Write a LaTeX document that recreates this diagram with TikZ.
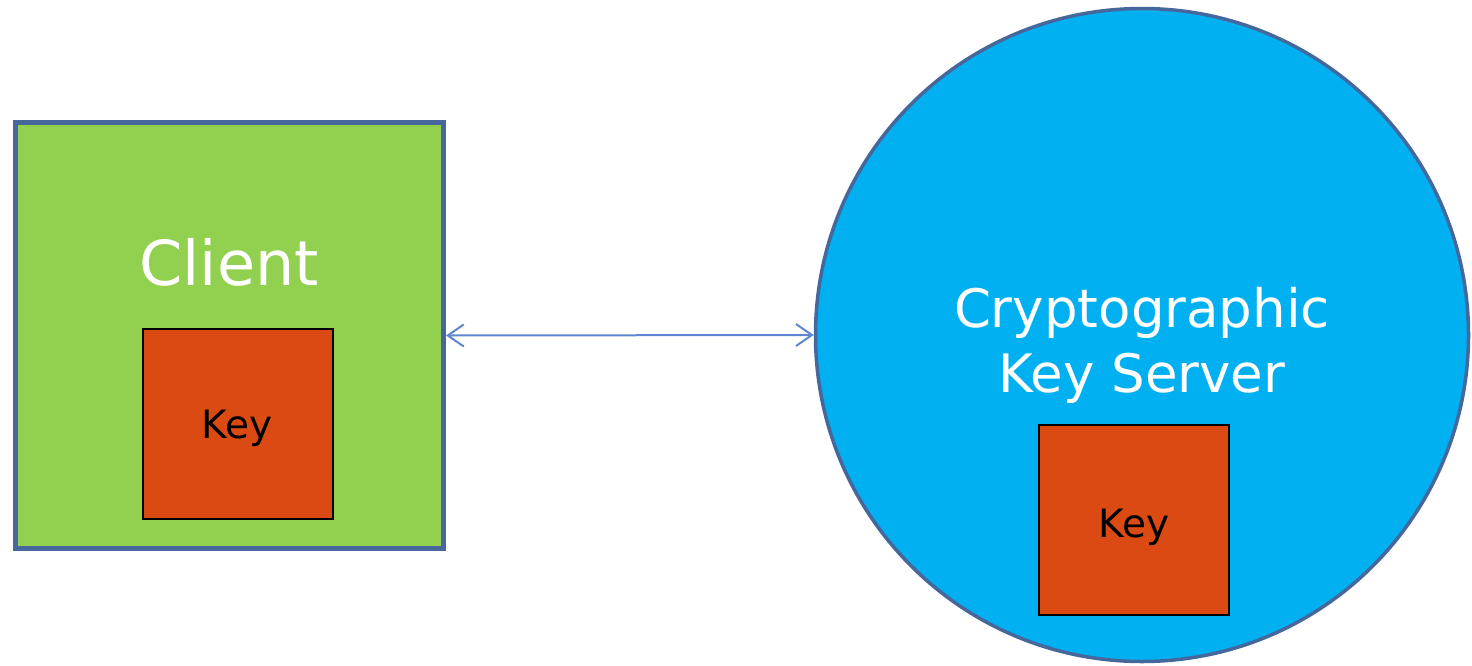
\documentclass[tikz,border=0pt]{standalone}
\usepackage{fontspec}
\setmainfont{DejaVu Sans}
\usetikzlibrary{arrows.meta,positioning}
\definecolor{ksGreen}{HTML}{92D050}
\definecolor{ksBlue} {HTML}{00B0F0}
\definecolor{ksEdge} {HTML}{46679C}
\definecolor{ksKey}  {HTML}{DB4A12}
\definecolor{ksLink} {HTML}{5F86D0}

\tikzset{
  keybox/.style={draw=black,fill=ksKey,line width=2pt,minimum size=190pt,
                 inner sep=0pt,font=\fontsize{39}{46}\selectfont},
  biglabel/.style={text=white,inner sep=0pt}
}

\begin{document}
\begin{tikzpicture}[x=1pt,y=-1pt]
  \useasboundingbox (0,0) rectangle (1472,665);

  % client side
  \node[draw=ksEdge,fill=ksGreen,line width=5pt,minimum width=428pt,
        minimum height=426pt,inner sep=0pt] (client) at (229.5,335.5) {};
  \node[biglabel,anchor=base,font=\fontsize{62}{74}\selectfont]
        (clientlbl) at (229,285) {Client};
  \node[keybox] (clientkey) at (238,424) {};
  \node[anchor=base,font=\fontsize{39}{46}\selectfont] (clientkeylbl)
        at (237,438) {Key};

  % key server
  \node[circle,draw=ksEdge,fill=ksBlue,line width=3.5pt,minimum size=653pt,
        inner sep=0pt] (server) at (1142,335) {};
  \node[biglabel,align=center,font=\fontsize{53}{65}\selectfont]
        (serverlbl) at (1142,345) {Cryptographic\\Key Server};
  \node[keybox] (serverkey) at (1134,520) {};
  \node[anchor=base,font=\fontsize{39}{46}\selectfont] (serverkeylbl)
        at (1134,537) {Key};

  % link between the two
  \draw[ksLink,line width=2pt,{Straight Barb[length=16pt,width=22pt]}-{Straight Barb[length=16pt,width=22pt]}]
        (client.east) -- (server.west);
\end{tikzpicture}
\end{document}
